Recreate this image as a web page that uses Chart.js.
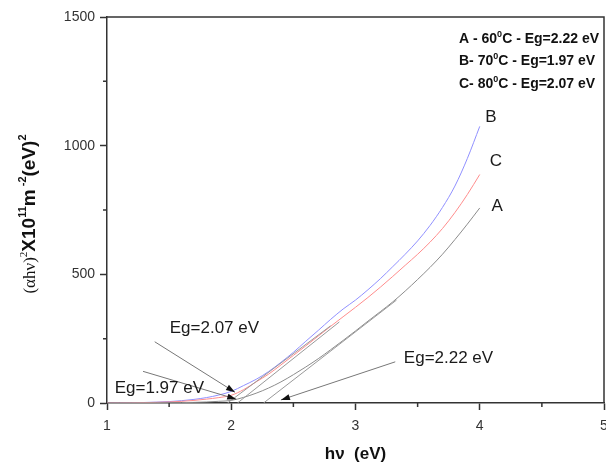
<!DOCTYPE html>
<html>
<head>
<meta charset="utf-8">
<script src="https://cdn.jsdelivr.net/npm/chart.js@4.4.0/dist/chart.umd.min.js"></script>
<style>
  html, body { margin: 0; padding: 0; background: #fff; }
  #wrap { width: 606px; height: 466px; }
</style>
</head>
<body>
<div id="wrap"><canvas id="grafica" width="606" height="466"></canvas></div>
<script>
// =================================
// DATOS
// =================================
const hv = [1.0, 1.1, 1.2, 1.3, 1.4, 1.5, 1.6, 1.7, 1.8, 1.9, 2.0,
            2.1, 2.2, 2.3, 2.4, 2.5, 2.6, 2.7, 2.8, 2.9, 3.0,
            3.1, 3.2, 3.3, 3.4, 3.5, 3.6, 3.7, 3.8, 3.9, 4.0];
// A - 60 C
const curvaA = [0, 0.1, 0.2, 0.3, 0.5, 1, 1.5, 2.5, 4, 6.5, 10,
                22, 38, 58, 82, 110, 140, 172, 207, 243, 280,
                318, 355, 393, 435, 480, 527, 578, 635, 695, 758];
// B - 70 C
const curvaB = [0, 0.5, 1, 2, 3.5, 5.5, 9, 14, 21, 31, 45,
                68, 92, 122, 158, 197, 240, 282, 325, 365, 400,
                440, 483, 530, 578, 630, 690, 760, 843, 950, 1075];
// C - 80 C
const curvaC = [0, 0.3, 0.8, 1.5, 2.5, 4, 6.5, 10, 15, 21, 30,
                52, 82, 112, 148, 185, 222, 260, 298, 335, 372,
                410, 450, 492, 535, 578, 625, 678, 740, 810, 888];
// rectas de extrapolación (hv, valor)
const tangenteA = [[2.26, 0], [3.33, 400]];
const tangenteB = [[1.97, 0], [2.80, 300]];
const tangenteC = [[2.05, 0], [2.87, 315]];

const ticksX = [1, 2, 3, 4, 5];
const ticksY = [0, 500, 1000, 1500];
const nombres = ['A', 'B', 'C'];
const temperaturas = ['60', '70', '80'];
const energiasGap = ['2.22', '1.97', '2.07'];

const SANS = "'Liberation Sans', Arial, sans-serif";
const SERIF = "'Liberation Serif', 'Times New Roman', serif";

function puntos(xs, ys) {
    return xs.map((v, i) => ({ x: v, y: ys[i] }));
}
function recta(par) {
    return par.map(p => ({ x: p[0], y: p[1] }));
}

// anotaciones (posición en unidades de los ejes)
const anotaciones = [
    { texto: 'Eg=' + energiasGap[2] + ' eV', tx: 1.505, ty: 292, desde: [1.384, 238], hasta: [2.03, 42] },
    { texto: 'Eg=' + energiasGap[1] + ' eV', tx: 1.062, ty: 59,  desde: [1.29, 123],  hasta: [2.04, 15] },
    { texto: 'Eg=' + energiasGap[0] + ' eV', tx: 3.389, ty: 172, desde: [3.32, 160],  hasta: [2.40, 12] }
];
const letras = [
    { t: 'B', x: 4.09, y: 1111 },
    { t: 'C', x: 4.13, y: 940 },
    { t: 'A', x: 4.14, y: 766 }
];

// dibuja un texto con partes (superíndices / fuentes distintas)
function textoCompuesto(ctx, partes, x, y, centrado) {
    let total = 0;
    partes.forEach(p => { ctx.font = p.f; p.w = ctx.measureText(p.t).width; total += p.w; });
    let cx = centrado ? x - total / 2 : x;
    partes.forEach(p => {
        ctx.font = p.f;
        ctx.fillText(p.t, cx, y - (p.up || 0));
        cx += p.w;
    });
}

function flecha(ctx, x1, y1, x2, y2) {
    ctx.strokeStyle = '#777';
    ctx.lineWidth = 1;
    ctx.beginPath();
    ctx.moveTo(x1, y1);
    ctx.lineTo(x2, y2);
    ctx.stroke();
    const a = Math.atan2(y2 - y1, x2 - x1);
    ctx.fillStyle = '#111';
    ctx.beginPath();
    ctx.moveTo(x2, y2);
    ctx.lineTo(x2 - 9 * Math.cos(a) + 3 * Math.sin(a), y2 - 9 * Math.sin(a) - 3 * Math.cos(a));
    ctx.lineTo(x2 - 9 * Math.cos(a) - 3 * Math.sin(a), y2 - 9 * Math.sin(a) + 3 * Math.cos(a));
    ctx.closePath();
    ctx.fill();
}

const extras = {
    id: 'extras',
    afterDraw(chart) {
        const ctx = chart.ctx;
        const sx = chart.scales.x, sy = chart.scales.y;
        const area = chart.chartArea;
        const X = v => sx.getPixelForValue(v);
        const Y = v => sy.getPixelForValue(v);
        ctx.save();

        // marco superior y derecho
        ctx.strokeStyle = '#333';
        ctx.lineWidth = 1.5;
        ctx.beginPath();
        ctx.moveTo(area.left, area.top);
        ctx.lineTo(area.right, area.top);
        ctx.lineTo(area.right, area.bottom);
        ctx.stroke();

        // marcas menores
        ctx.beginPath();
        [1.5, 2.5, 3.5, 4.5].forEach(v => { ctx.moveTo(X(v), area.bottom); ctx.lineTo(X(v), area.bottom + 4); });
        [250, 750, 1250].forEach(v => { ctx.moveTo(area.left - 4, Y(v)); ctx.lineTo(area.left, Y(v)); });
        ctx.stroke();

        // flechas y textos Eg
        anotaciones.forEach(a => {
            flecha(ctx, X(a.desde[0]), Y(a.desde[1]), X(a.hasta[0]), Y(a.hasta[1]));
        });
        ctx.fillStyle = '#1a1a1a';
        ctx.font = '17px ' + SANS;
        ctx.textBaseline = 'middle';
        ctx.textAlign = 'left';
        anotaciones.forEach(a => ctx.fillText(a.texto, X(a.tx), Y(a.ty)));

        // letras de las curvas
        ctx.textAlign = 'center';
        letras.forEach(l => ctx.fillText(l.t, X(l.x), Y(l.y)));

        // leyenda
        ctx.textAlign = 'left';
        ctx.textBaseline = 'alphabetic';
        ctx.fillStyle = '#111';
        const fB = 'bold 14px ' + SANS, fS = 'bold 9px ' + SANS;
        const sep = ['A - ', 'B- ', 'C- '];
        nombres.forEach((n, i) => {
            textoCompuesto(ctx, [
                { t: sep[i] + temperaturas[i], f: fB },
                { t: '0', f: fS, up: 6 },
                { t: 'C - Eg=' + energiasGap[i] + ' eV', f: fB }
            ], 459, 43 + i * 22.3, false);
        });

        // título del eje Y
        ctx.translate(28, 214);
        ctx.rotate(-Math.PI / 2);
        ctx.fillStyle = '#111';
        const fb = 'bold 19px ' + SANS, fs = 'bold 11px ' + SANS;
        textoCompuesto(ctx, [
            { t: '(\u03b1h\u03bd)', f: '17px ' + SERIF },
            { t: '2', f: '11px ' + SERIF, up: 8 },
            { t: 'X10', f: fb },
            { t: '11', f: fs, up: 9 },
            { t: 'm', f: fb },
            { t: ' -2', f: fs, up: 9 },
            { t: '(eV)', f: fb },
            { t: '2', f: fs, up: 9 }
        ], 0, 7, true);

        ctx.restore();
    }
};

document.addEventListener('DOMContentLoaded', () => {
    try {
        const ctx = document.getElementById('grafica').getContext('2d');
        const linea = (datos, color) => ({
            data: datos, borderColor: color, borderWidth: 1,
            pointRadius: 0, fill: false, cubicInterpolationMode: 'monotone'
        });
        const colorTick = c => (c.tick && ticksX.concat(ticksY).includes(c.tick.value)) ? '#333' : 'rgba(0,0,0,0)';

        new Chart(ctx, {
            type: 'line',
            data: {
                datasets: [
                    linea(recta(tangenteA), '#999'),
                    linea(recta(tangenteB), '#999'),
                    linea(recta(tangenteC), '#999'),
                    linea(puntos(hv, curvaA), '#8c8c8c'),
                    linea(puntos(hv, curvaC), '#ff8c8c'),
                    linea(puntos(hv, curvaB), '#9090ff')
                ]
            },
            options: {
                responsive: false,
                animation: false,
                layout: { padding: { top: 17, right: 2, left: 0, bottom: 0 } },
                scales: {
                    x: {
                        type: 'linear', min: 1, max: 5,
                        afterFit: s => { s.height = 63; s.paddingLeft = 0; s.paddingRight = 0; },
                        border: { color: '#333', width: 1.5 },
                        grid: { drawOnChartArea: false, tickLength: 7, tickWidth: 1.5, tickColor: colorTick },
                        ticks: {
                            stepSize: 0.5, autoSkip: false, maxRotation: 0, padding: 8,
                            color: '#333', font: { family: SANS, size: 14 },
                            callback: v => ticksX.includes(v) ? String(v) : ''
                        },
                        title: {
                            display: true, text: 'h\u03bd  (eV)', color: '#111',
                            font: { family: SANS, size: 17, weight: 'bold' },
                            padding: { top: 0, bottom: 1 }
                        }
                    },
                    y: {
                        type: 'linear', min: 0, max: 1500,
                        afterFit: s => { s.width = 107; s.paddingTop = 0; s.paddingBottom = 0; },
                        border: { color: '#333', width: 1.5 },
                        grid: { drawOnChartArea: false, tickLength: 7, tickWidth: 1.5, tickColor: colorTick },
                        ticks: {
                            stepSize: 250, autoSkip: false, padding: 5,
                            color: '#333', font: { family: SANS, size: 14 },
                            callback: v => ticksY.includes(v) ? String(v) : ''
                        }
                    }
                },
                plugins: {
                    legend: { display: false },
                    tooltip: { enabled: false }
                }
            },
            plugins: [extras]
        });
    } catch (e) {
        console.error('Error al crear la gráfica:', e);
    }
});
</script>
</body>
</html>
